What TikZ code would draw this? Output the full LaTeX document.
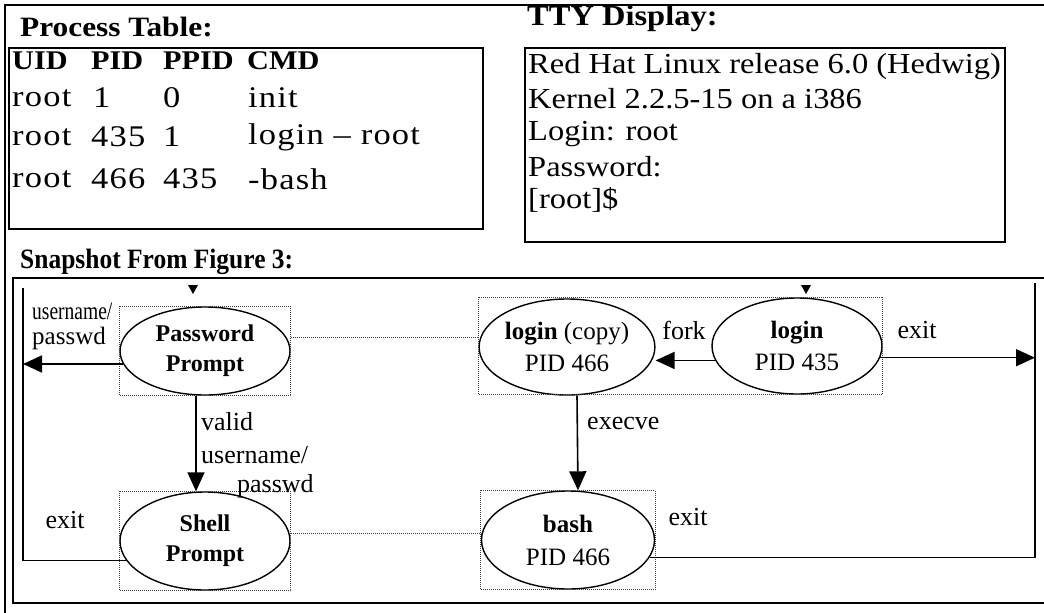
\documentclass[tikz,border=0pt]{standalone}
\usepackage{fontspec}
\usepackage{graphicx}
\setmainfont{Liberation Serif}
\newfontfamily\wideserif[FakeStretch=1.12]{Liberation Serif}
\newfontfamily\tableserif[FakeStretch=1.15,LetterSpace=4]{Liberation Serif}
\usetikzlibrary{shapes.geometric,arrows.meta}
\begin{document}
\begin{tikzpicture}[x=1pt,y=-1pt,
  frame/.style={line width=2pt},
  outerframe/.style={line width=1.2pt},
  selbox/.style={densely dotted, line width=1pt, black!75},
  proc/.style={ellipse, draw, line width=1.4pt, inner sep=0pt, align=center,
    font=\fontsize{24}{30}\selectfont},
  conn/.style={line width=1.6pt},
  arr/.style={conn, -{Triangle[length=19pt,width=17pt]}},
  lbl/.style={font=\fontsize{26}{30}\selectfont, inner sep=0pt},
  ttl/.style={font=\wideserif\bfseries\fontsize{28}{30}\selectfont, inner sep=0pt, anchor=west},
  cell/.style={font=\tableserif\fontsize{30}{34}\selectfont, inner sep=0pt, anchor=west},
  hcell/.style={cell, font=\wideserif\bfseries\fontsize{27}{34}\selectfont},
  tty/.style={font=\wideserif\fontsize{29}{33}\selectfont, inner sep=0pt, anchor=west},
  topmark/.style={fill=black}
]
\useasboundingbox (0,0) rectangle (1044,613);
% outer frame
\draw[outerframe] (1044,5) -- (5,5) -- (5,613);

% ---------- Process table ----------
\node[ttl] (pttl) at (20,27) {Process Table:};
\draw[frame] (9,48) rectangle (483,229);
\node[hcell] (h1) at (12,61) {UID};
\node[hcell] (h2) at (91,61) {PID};
\node[hcell] (h3) at (163,61) {PPID};
\node[hcell] (h4) at (247,61) {CMD};
\node[cell] (r11) at (12,98) {root};
\node[cell] (r12) at (93,98) {1};
\node[cell] (r13) at (163,98) {0};
\node[cell] (r14) at (248,98) {init};
\node[cell] (r21) at (12,137) {root};
\node[cell] (r22) at (91,137) {435};
\node[cell] (r23) at (163,137) {1};
\node[cell] (r24) at (248,137) {login \textendash\ root};
\node[cell] (r31) at (12,179) {root};
\node[cell] (r32) at (91,179) {466};
\node[cell] (r33) at (163,179) {435};
\node[cell] (r34) at (248,179) {-bash};

% ---------- TTY display ----------
\node[ttl, font=\wideserif\bfseries\fontsize{29}{30}\selectfont] (tttl) at (527,19) {TTY Display:};
\draw[frame] (525,48) rectangle (1005,242);
\node[tty] (t1) at (528,67) {Red Hat Linux release 6.0 (Hedwig)};
\node[tty] (t2) at (528,99) {Kernel 2.2.5-15 on a i386};
\node[tty] (t3) at (528,134) {Login: root};
\node[tty] (t4) at (528,167) {Password:};
\node[tty] (t5) at (528,200) {[root]\$};

% ---------- Snapshot ----------
\node[ttl, font=\bfseries\fontsize{28}{30}\selectfont] (sttl) at (20,262) {\scalebox{0.91}[1]{Snapshot From Figure 3:}};
\draw[frame] (1044,278) -- (13,278) -- (13,603) -- (1044,603);

\node[proc, minimum width=170, minimum height=88] (pp) at (205,351) {\textbf{Password}\\\textbf{Prompt}};
\node[proc, minimum width=170, minimum height=98] (sp) at (205,541) {\textbf{Shell}\\\textbf{Prompt}};
\node[proc, minimum width=175, minimum height=96, font=\fontsize{25}{32}\selectfont] (lc) at (567,347) {\textbf{login} (copy)\\PID 466};
\node[proc, minimum width=170, minimum height=96, font=\fontsize{25}{32}\selectfont] (lg) at (797,346) {\textbf{login}\\PID 435};
\node[proc, minimum width=173, minimum height=98, font=\fontsize{25}{33}\selectfont] (bs) at (568,540) {\textbf{bash}\\PID 466};

% selection boxes
\draw[selbox] (pp.west |- pp.north) rectangle (pp.east |- pp.south);
\draw[selbox] (sp.west |- sp.north) rectangle (sp.east |- sp.south);
\draw[selbox] (lc.west |- lg.north) rectangle (lg.east |- lg.south);
\draw[selbox] (bs.west |- bs.north) rectangle (bs.east |- bs.south);
\draw[selbox] (pp.east |- 0,337) -- (lc.west |- 0,337);
\draw[selbox] (sp.east |- 0,533) -- (bs.west |- 0,533);

% top marks
\fill[topmark] (188,285) -- (198,285) -- (193,294) -- cycle;
\fill[topmark] (801,285) -- (811,285) -- (806,294) -- cycle;

% loop corners
\coordinate (Ltop) at (23,288);
\coordinate (Rtop) at (1035,283);

% connectors
\draw[arr] (pp.189) -- (pp.189 -| Ltop);
\draw[conn] (sp.194) -- (sp.194 -| Ltop) -- (Ltop);
\draw[arr] ([xshift=-9pt]pp.south) -- ([xshift=-9pt]sp.north);
\draw[arr] (lg.190) -- (lg.190 -| lc.east);
\draw[arr] (lg.-8) -- (lg.-8 -| Rtop);
\draw[arr] ([xshift=10pt]lc.south) -- ([xshift=10pt]bs.north);
\draw[conn] (bs.-12) -- (bs.-12 -| Rtop) -- (Rtop);

% labels
\node[lbl, anchor=west, font=\fontsize{25}{28}\selectfont] (l1) at (32,311) {\scalebox{0.78}[1]{username/}};
\node[lbl, anchor=west, font=\fontsize{25}{28}\selectfont] (l2) at (32,338) {passwd};
\node[lbl, anchor=west] (l3) at (201,422) {valid};
\node[lbl, anchor=west] (l4) at (201,455) {username/};
\node[lbl, anchor=west] (l5) at (237,486) {passwd};
\node[lbl] (l6) at (65,520) {exit};
\node[lbl] (l7) at (684,330) {fork};
\node[lbl] (l8) at (917,330) {exit};
\node[lbl, anchor=west] (l9) at (587,423) {execve};
\node[lbl] (l10) at (688,517) {exit};
\end{tikzpicture}
\end{document}
